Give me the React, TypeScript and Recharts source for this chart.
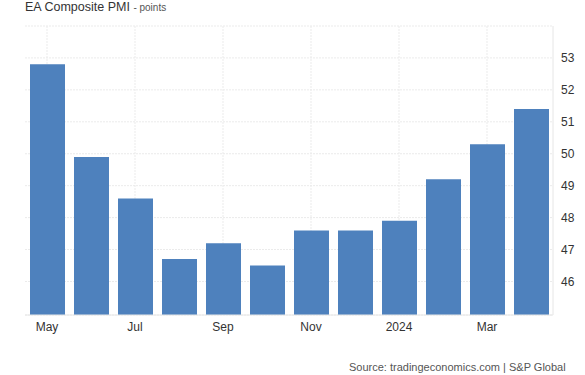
import React from "react";
import { BarChart, Bar, XAxis, YAxis, CartesianGrid } from "recharts";

const months = ["May", "Jun", "Jul", "Aug", "Sep", "Oct", "Nov", "Dec", "2024", "Feb", "Mar", "Apr"];
const pmi = [52.8, 49.9, 48.6, 46.7, 47.2, 46.5, 47.6, 47.6, 47.9, 49.2, 50.3, 51.4];
const xTicks = ["May", "Jul", "Sep", "Nov", "2024", "Mar"];
const yTicks = [46, 47, 48, 49, 50, 51, 52, 53, 54];

const data = months.map((m, i) => ({ month: m, value: pmi[i] }));

const FONT = "'Liberation Sans', Arial, sans-serif";
const GRID = "#ebebeb";

const verticalGen = (props: any) => {
  const off = props.offset || {};
  const left = off.left ?? 25;
  const width = off.width ?? 528;
  const band = width / months.length;
  return xTicks.map((t) => left + (months.indexOf(t) + 0.5) * band);
};

export default function App() {
  return (
    <div style={{ position: "fixed", left: 0, top: 0, width: 585, height: 375, background: "#fff", overflow: "hidden", fontFamily: FONT }}>
      <div style={{ position: "absolute", left: 25, top: 0, fontSize: 12.5, lineHeight: "14px", color: "#333", whiteSpace: "nowrap" }}>
        EA Composite PMI <span style={{ fontSize: 10, color: "#555" }}>- points</span>
      </div>
      <BarChart
        width={585}
        height={375}
        data={data}
        margin={{ top: 26, right: 0, left: 25, bottom: 30 }}
      >
        <CartesianGrid
          stroke={GRID}
          strokeDasharray="2 1"
          yAxisId="right"
          verticalCoordinatesGenerator={verticalGen}
        />
        <XAxis
          dataKey="month"
          ticks={xTicks}
          interval={0}
          tickLine={false}
          tickMargin={1}
          axisLine={{ stroke: "#e6e6e6" }}
          height={30}
          tick={{ fill: "#333", fontSize: 12, fontFamily: FONT }}
        />
        <YAxis
          yAxisId="left"
          orientation="left"
          width={0}
          tick={false}
          tickLine={false}
          axisLine={{ stroke: "#e6e6e6" }}
          domain={[44.95, 54]}
          ticks={yTicks}
        />
        <YAxis
          yAxisId="right"
          orientation="right"
          width={32}
          domain={[44.95, 54]}
          ticks={yTicks}
          tickFormatter={(v: number) => (v === 54 ? "" : String(v))}
          tickLine={false}
          axisLine={{ stroke: "#e6e6e6" }}
          tick={{ fill: "#333", fontSize: 12, fontFamily: FONT, textAnchor: "start" }}
          allowDataOverflow
        />
        <Bar dataKey="value" yAxisId="right" fill="#4e81bd" barSize={35} isAnimationActive={false} />
      </BarChart>
      <div style={{ position: "absolute", left: 349, top: 361, fontSize: 11, lineHeight: "13px", color: "#555", whiteSpace: "nowrap" }}>
        Source: tradingeconomics.com | S&amp;P Global
      </div>
    </div>
  );
}
